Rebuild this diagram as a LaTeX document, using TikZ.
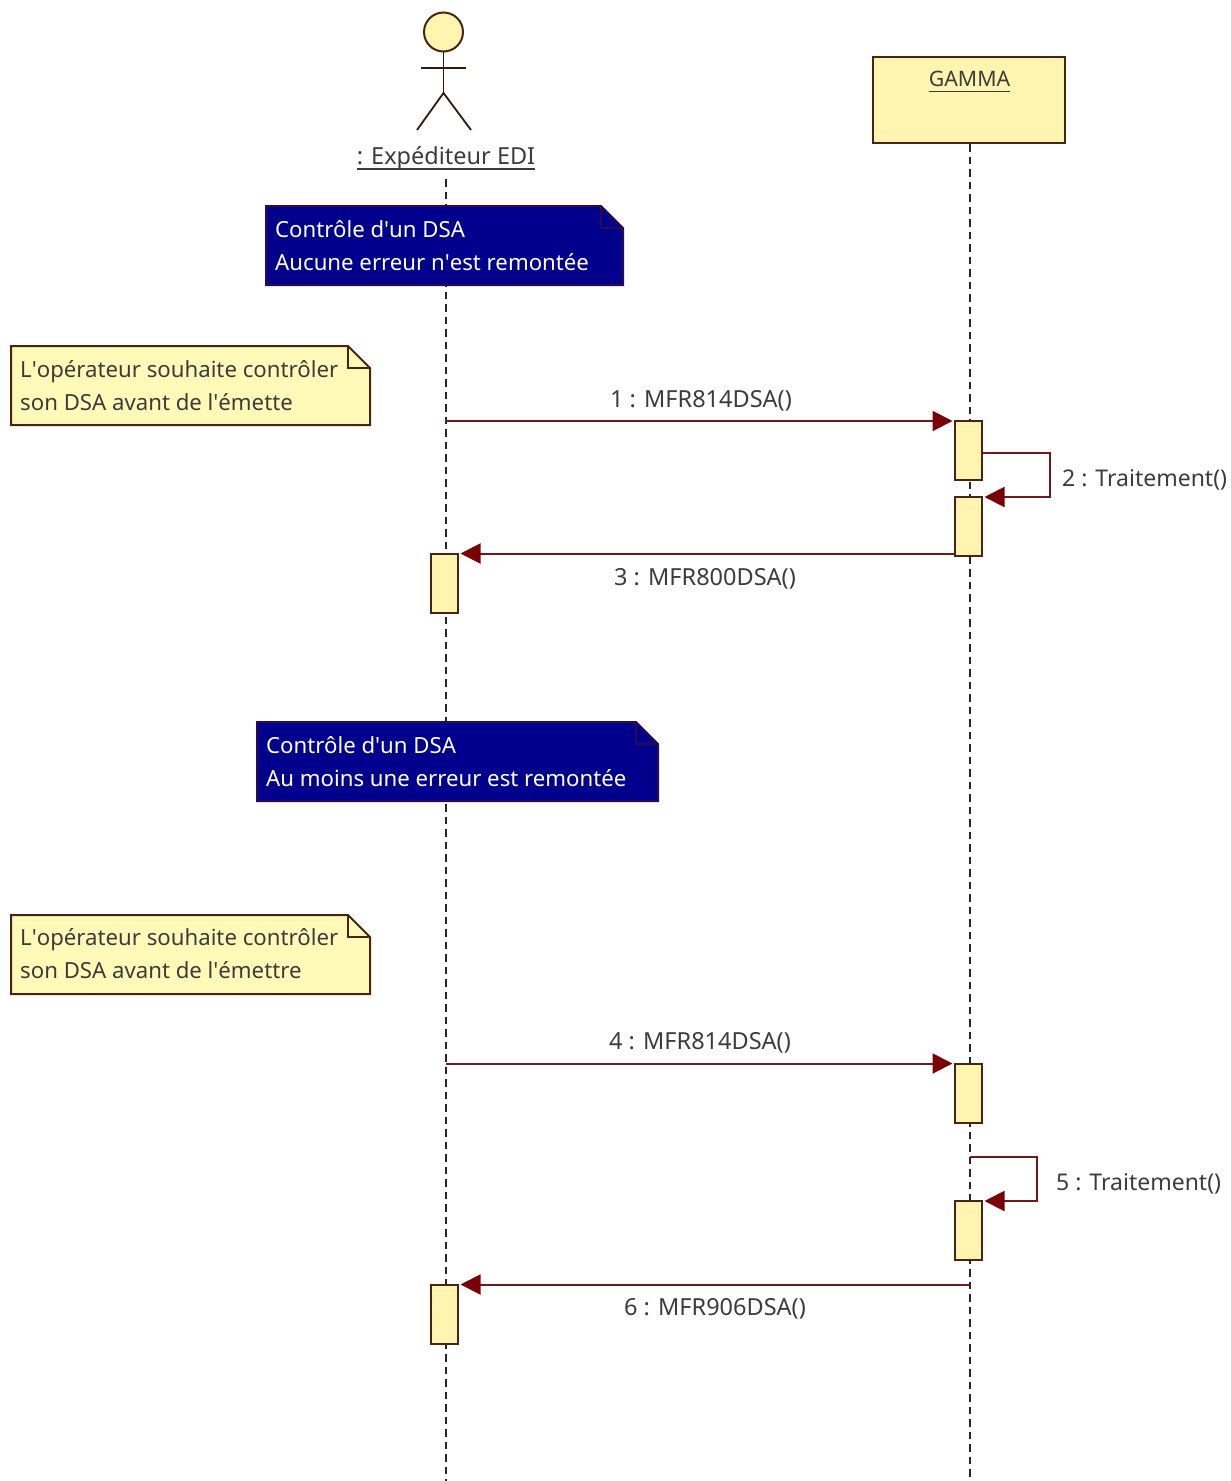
\documentclass[tikz,border=0pt]{standalone}
\usepackage{fontspec}
\setmainfont{Noto Sans}
\usetikzlibrary{arrows.meta}
\definecolor{boxfill}{HTML}{FFF5B0}
\definecolor{notefill}{HTML}{FFFAB8}
\definecolor{boxline}{HTML}{4A2410}
\definecolor{msgline}{HTML}{6E1A1A}
\definecolor{tipred}{HTML}{7A0008}
\definecolor{navyfill}{HTML}{00008C}
\definecolor{navyline}{HTML}{2A0A50}
\definecolor{txt}{HTML}{3C3C3C}
\newcommand\q{\textquotesingle{}}
\newcommand\ulabel[1]{\setbox0\hbox{#1}\rlap{\rule[-5.5pt]{\wd0}{1.8pt}}\box0}
\newcommand\notepoly[6]{% x1 y1 x2 y2 fill draw
  \draw[line width=2pt,fill=#5,draw=#6,line join=miter] (#1,#2) -- ({#3-22},#2) -- (#3,{#2+22}) -- (#3,#4) -- (#1,#4) -- cycle;
  \draw[line width=2pt,draw=#6] ({#3-22},#2) -- ({#3-22},{#2+22}) -- (#3,{#2+22});}
\tikzset{
  x=1pt,y=-1pt,
  lifeline/.style={line width=2.2pt,black!85,dash pattern=on 7.5pt off 5pt},
  bar/.style={draw=boxline,fill=boxfill,line width=2pt,minimum width=27pt,inner sep=0pt,outer sep=0pt},
  msg/.style={draw=msgline,line width=2pt,-{Triangle[length=20pt,width=20pt,color=tipred]},shorten >=2.5pt},
  msglabel/.style={font=\fontsize{23.5}{28}\selectfont,text=txt,inner sep=0pt},
  selflabel/.style={font=\fontsize{23}{28}\selectfont,text=txt,inner sep=0pt,anchor=west},
  notetext/.style={font=\fontsize{22.2}{33}\selectfont,inner sep=0pt,anchor=west,align=left},
  classbox/.style={draw=boxline,fill=boxfill,line width=2pt,inner sep=0pt,outer sep=0pt},
  limb/.style={draw=boxline!70!black,line width=1.8pt},
}
\begin{document}
\begin{tikzpicture}
\useasboundingbox[fill=white] (0,0) rectangle (1231,1481);
% actor
\node[circle,draw=boxline,fill=boxfill,line width=2pt,minimum size=39pt,inner sep=0pt,outer sep=0pt] (head) at (443.5,32) {};
\coordinate (hip) at (443.5,93);
\coordinate (armL) at (421,68);
\coordinate (armR) at (466,68);
\coordinate (legL) at (417,130);
\coordinate (legR) at (471,130);
\draw[limb] (head.south) -- (hip);
\draw[limb] (armL) -- (armR);
\draw[limb] (legL) -- (hip) -- (legR);
\node[font=\fontsize{23.5}{28}\selectfont,text=txt,inner sep=0pt] (actor) at (446,158) {\ulabel{: Expéditeur EDI}};
% gamma
\node[classbox,minimum width=192pt,minimum height=86pt] (gamma) at (969,100) {};
\node[font=\fontsize{21.3}{28}\selectfont,text=txt,inner sep=0pt] (gammat) at (969.5,82) {\ulabel{GAMMA}};
% lifelines
\coordinate (aTop) at (446,179);
\coordinate (aEnd) at (446,1481);
\coordinate (gTop) at (970,144);
\coordinate (gEnd) at (970,1481);
\draw[lifeline] (aTop) -- (aEnd);
\draw[lifeline] (gTop) -- (gEnd);
% activation bars
\node[bar,minimum height=59pt,anchor=north] (b1) at (968.5,421) {};
\node[bar,minimum height=59pt,anchor=north] (b2) at (968.5,497) {};
\node[bar,minimum height=59pt,anchor=north] (b3) at (444.5,553.5) {};
\node[bar,minimum height=59pt,anchor=north] (b4) at (968.5,1063.5) {};
\node[bar,minimum height=59pt,anchor=north] (b5) at (968.5,1201) {};
\node[bar,minimum height=59pt,anchor=north] (b6) at (444.5,1284.5) {};
% messages
\coordinate (m1s) at (446,421);
\draw[msg] (m1s) -- (b1.north west);
\coordinate (m2s) at (982,453);
\coordinate (m2a) at (1050,453);
\coordinate (m2b) at (1050,497);
\draw[msg] (m2s) -- (m2a) -- (m2b) -- (b2.north east);
\coordinate (m3s) at (955,553.5);
\draw[msg] (m3s) -- (b3.north east);
\coordinate (m4s) at (446,1063.5);
\draw[msg] (m4s) -- (b4.north west);
\coordinate (m5s) at (970,1157);
\coordinate (m5a) at (1037,1157);
\coordinate (m5b) at (1037,1201);
\draw[msg] (m5s) -- (m5a) -- (m5b) -- (b5.north east);
\coordinate (m6s) at (970,1284.5);
\draw[msg] (m6s) -- (b6.north east);
% message labels
\node[msglabel] (l1) at (701,401) {1 : MFR814DSA()};
\node[selflabel] (l2) at (1062,480) {2 : Traitement()};
\node[msglabel] (l3) at (705,579) {3 : MFR800DSA()};
\node[msglabel] (l4) at (700,1043) {4 : MFR814DSA()};
\node[selflabel] (l5) at (1056,1184) {5 : Traitement()};
\node[msglabel] (l6) at (715,1309) {6 : MFR906DSA()};
% notes
\notepoly{266}{206}{623}{285}{navyfill}{navyline}
\node[notetext,text=white] (n1) at (275,245.5) {Contrôle d\q un DSA\\Aucune erreur n\q est remontée};
\notepoly{257}{722}{658}{801}{navyfill}{navyline}
\node[notetext,text=white] (n2) at (266,762) {Contrôle d\q un DSA\\Au moins une erreur est remontée};
\notepoly{11}{346}{370}{425}{notefill}{boxline}
\node[notetext,text=txt] (n3) at (20,385.5) {L\q opérateur souhaite contrôler\\son DSA avant de l\q émette};
\notepoly{11}{915}{370}{994}{notefill}{boxline}
\node[notetext,text=txt] (n4) at (20,954) {L\q opérateur souhaite contrôler\\son DSA avant de l\q émettre};
\end{tikzpicture}
\end{document}
